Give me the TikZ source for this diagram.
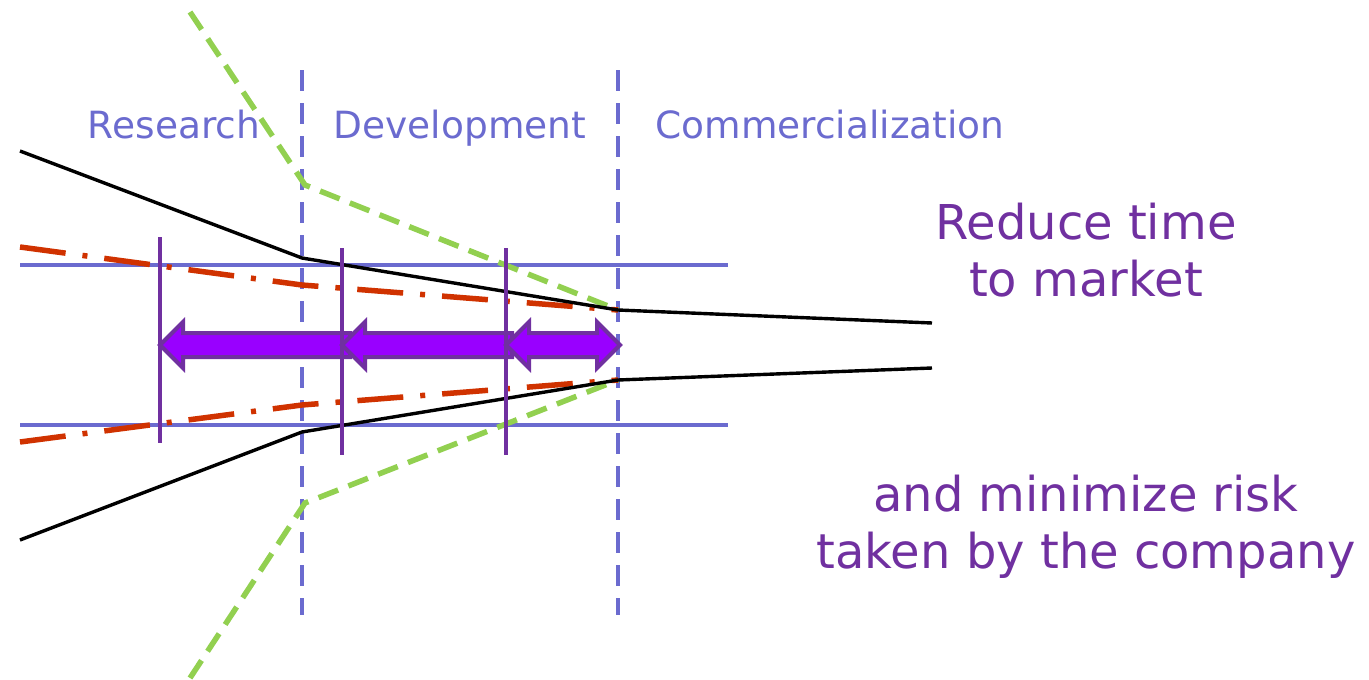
\documentclass[tikz,border=0pt]{standalone}
\usepackage{fontspec}
\setmainfont{DejaVu Sans}
\usetikzlibrary{calc}

\definecolor{phaseblue}{HTML}{6B6BCF}
\definecolor{riskred}{HTML}{D03200}
\definecolor{optgreen}{HTML}{92D050}
\definecolor{gatepurple}{HTML}{7030A0}
\definecolor{arrowviolet}{HTML}{9900FF}

\begin{document}
\begin{tikzpicture}[
  x=1pt, y=-1pt,
  phase/.style={draw=phaseblue, line width=3.2pt, dash pattern=on 21pt off 12pt},
  band/.style={draw=phaseblue, line width=3.2pt},
  funnel/.style={draw=black, line width=3.4pt},
  options/.style={draw=optgreen, line width=5.5pt, dash pattern=on 21pt off 11pt},
  risk/.style={draw=riskred, line width=5.5pt, dash pattern=on 46pt off 17pt on 5pt off 17pt},
  gate/.style={draw=gatepurple, line width=3.6pt},
  jump/.style={draw=gatepurple, fill=arrowviolet, line width=4pt, line join=miter},
  stage/.style={text=phaseblue, font=\fontsize{37.5}{42}\selectfont, inner sep=0pt, anchor=base},
  goal/.style={text=gatepurple, font=\fontsize{48}{57}\selectfont, align=center, inner sep=0pt}
]
\useasboundingbox (0,0) rectangle (1369,680);

% phase boundaries
\coordinate (rd) at (302,70);
\coordinate (dc) at (618,70);
\draw[phase] (rd) -- (302,615);
\draw[phase] (dc) -- (618,615);

% band limits
\draw[band] (20,265) -- (728,265);
\draw[band] (20,425) -- (728,425);

% options (green), risk (red), funnel (black)
\draw[options] (190,12) -- (305,185) -- (618,310);
\draw[options] (190,678) -- (305,503) -- (618,380);
\draw[risk] (20,247) -- (302,285) -- (618,310);
\draw[risk] (20,442) -- (302,405) -- (618,380);
\draw[funnel] (20,151) -- (302,258) -- (618,310) -- (932,323);
\draw[funnel] (20,540) -- (302,432) -- (618,380) -- (932,368);

% time-to-market arrows
\draw[jump] (160,345) -- (183,322) -- (183,333) -- (350,333) -- (350,357) -- (183,357) -- (183,368) -- cycle;
\draw[jump] (342,345) -- (365,322) -- (365,333) -- (512,333) -- (512,357) -- (365,357) -- (365,368) -- cycle;
\draw[jump] (506,345) -- (529,322) -- (529,333) -- (597,333) -- (597,322) -- (620,345)
  -- (597,368) -- (597,357) -- (529,357) -- (529,368) -- cycle;

% gates
\draw[gate] (160,237) -- (160,443);
\draw[gate] (342,248) -- (342,455);
\draw[gate] (506,248) -- (506,455);

% labels
\node[stage] (research) at (174,138) {Research};
\node[stage] (development) at (460,138) {Development};
\node[stage] (commercial) at (830,138) {Commercialization};
\node[goal] (reduce) at (1086,250) {Reduce time\\to market};
\node[goal] (minimize) at (1086,527) {and minimize risk\\taken by the company};

\end{tikzpicture}
\end{document}
